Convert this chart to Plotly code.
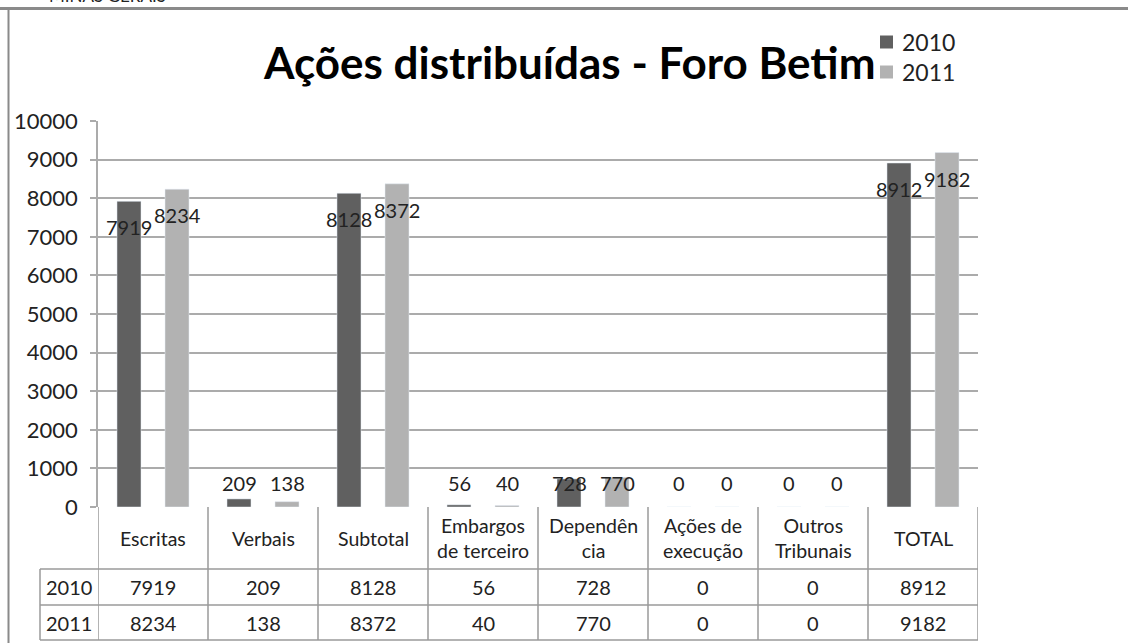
import plotly.graph_objects as go

# ---- data ----
categories = ["Escritas", "Verbais", "Subtotal", "Embargos de terceiro", "Dependência",
              "Ações de execução", "Outros Tribunais", "TOTAL"]
header_labels = ["Escritas", "Verbais", "Subtotal", "Embargos<br>de terceiro", "Dependên<br>cia",
                 "Ações de<br>execução", "Outros<br>Tribunais", "TOTAL"]
series_names = ["2010", "2011"]
values_2010 = [7919, 209, 8128, 56, 728, 0, 0, 8912]
values_2011 = [8234, 138, 8372, 40, 770, 0, 0, 9182]
y_ticks = [0, 1000, 2000, 3000, 4000, 5000, 6000, 7000, 8000, 9000, 10000]
title_text = "Ações distribuídas - Foro Betim"

W, H = 1128, 643
def px(x):
    return x / W
def py(y):
    return 1 - y / H

C_DARK = "#606060"
C_LIGHT = "#b2b2b2"
GRID = "#ababab"
TABLE = "#9a9a9a"
FONT = "Lato"

fig = go.Figure()
fig.add_trace(go.Bar(x=categories, y=values_2010, name=series_names[0], marker_color=C_DARK,
                     showlegend=False, hoverinfo="skip"))
fig.add_trace(go.Bar(x=categories, y=values_2011, name=series_names[1], marker_color=C_LIGHT,
                     showlegend=False, hoverinfo="skip"))

annotations = []
shapes = []

# data labels
for vals, shift in ((values_2010, -24), (values_2011, 24)):
    for c, v in zip(categories, vals):
        if v >= 1000:
            annotations.append(dict(x=c, y=v, xref="x", yref="y", text=str(v), showarrow=False,
                                    xshift=shift, yanchor="top", yshift=-12,
                                    font=dict(family=FONT, size=20, color="#222")))
        else:
            annotations.append(dict(x=c, y=0, xref="x", yref="y", text=str(v), showarrow=False,
                                    xshift=shift, yanchor="middle", yshift=24,
                                    font=dict(family=FONT, size=20, color="#222")))

# table header labels
for c, lab in zip(categories, header_labels):
    annotations.append(dict(x=c, y=py(538), xref="x", yref="paper", text=lab, showarrow=False,
                            xanchor="center", yanchor="middle",
                            font=dict(family=FONT, size=19.5, color="#222")))
# table rows
for ry, name, vals in ((587, series_names[0], values_2010), (623, series_names[1], values_2011)):
    annotations.append(dict(x=px(69), y=py(ry), xref="paper", yref="paper", text=name,
                            showarrow=False, xanchor="center", yanchor="middle",
                            font=dict(family=FONT, size=20, color="#222")))
    for c, v in zip(categories, vals):
        annotations.append(dict(x=c, y=py(ry), xref="x", yref="paper", text=str(v),
                                showarrow=False, xanchor="center", yanchor="middle",
                                font=dict(family=FONT, size=20, color="#222")))

# table grid lines
for i in range(len(categories) + 1):
    shapes.append(dict(type="line", xref="x", yref="paper", x0=i - 0.5, x1=i - 0.5,
                       y0=py(507), y1=py(640), line=dict(color=TABLE, width=1.5)))
shapes.append(dict(type="line", xref="paper", yref="paper", x0=px(40), x1=px(40),
                   y0=py(569), y1=py(640), line=dict(color=TABLE, width=1.5)))
for yy in (569, 605, 640):
    shapes.append(dict(type="line", xref="paper", yref="paper", x0=px(40), x1=px(978),
                       y0=py(yy), y1=py(yy), line=dict(color=TABLE, width=1.5)))

# frame of the screenshot
shapes.append(dict(type="line", xref="paper", yref="paper", x0=0, x1=1, y0=py(8.5), y1=py(8.5),
                   line=dict(color="#8a8a8a", width=3)))
shapes.append(dict(type="line", xref="paper", yref="paper", x0=px(8.5), x1=px(8.5), y0=py(8),
                   y1=0, line=dict(color="#8a8a8a", width=2)))
annotations.append(dict(x=px(47), y=py(8), xref="paper", yref="paper", text="MINAS GERAIS",
                        showarrow=False, xanchor="left", yanchor="bottom",
                        font=dict(family=FONT, size=17, color="#222")))

# title
annotations.append(dict(x=px(569), y=py(62), xref="paper", yref="paper",
                        text="<b>" + title_text + "</b>", showarrow=False,
                        xanchor="center", yanchor="middle",
                        font=dict(family=FONT, size=44, color="#000")))

# legend (manual)
for (yy, col, name) in ((42, C_DARK, series_names[0]), (72, C_LIGHT, series_names[1])):
    shapes.append(dict(type="rect", xref="paper", yref="paper", x0=px(880), x1=px(893),
                       y0=py(yy + 6.5), y1=py(yy - 6.5), fillcolor=col, line=dict(width=0)))
    annotations.append(dict(x=px(900), y=py(yy), xref="paper", yref="paper", text=name,
                            showarrow=False, xanchor="left", yanchor="middle",
                            font=dict(family=FONT, size=23, color="#222")))

fig.update_layout(
    width=W, height=H,
    margin=dict(l=0, r=0, t=0, b=0, pad=0, autoexpand=False),
    paper_bgcolor="white", plot_bgcolor="white",
    barmode="group", bargap=0.127, bargroupgap=0.5,
    showlegend=False,
    xaxis=dict(domain=[px(98), px(978)], range=[-0.5, 7.5], showticklabels=False,
               showgrid=False, zeroline=False, showline=False, ticks="", automargin=False),
    yaxis=dict(domain=[py(507), py(121)], range=[0, 10000], tickvals=y_ticks,
               ticktext=[str(t) for t in y_ticks], automargin=False,
               showgrid=True, gridcolor=GRID, gridwidth=1.5, zeroline=False,
               showline=True, linecolor=GRID, linewidth=1.5,
               ticks="outside", ticklen=6, tickcolor=GRID, tickwidth=1.5,
               tickfont=dict(family=FONT, size=22, color="#222"), ticklabelstandoff=8),
    annotations=annotations, shapes=shapes,
)

fig.write_html("out.html", config={"displayModeBar": False},
               post_script="document.body.style.margin='0';")
